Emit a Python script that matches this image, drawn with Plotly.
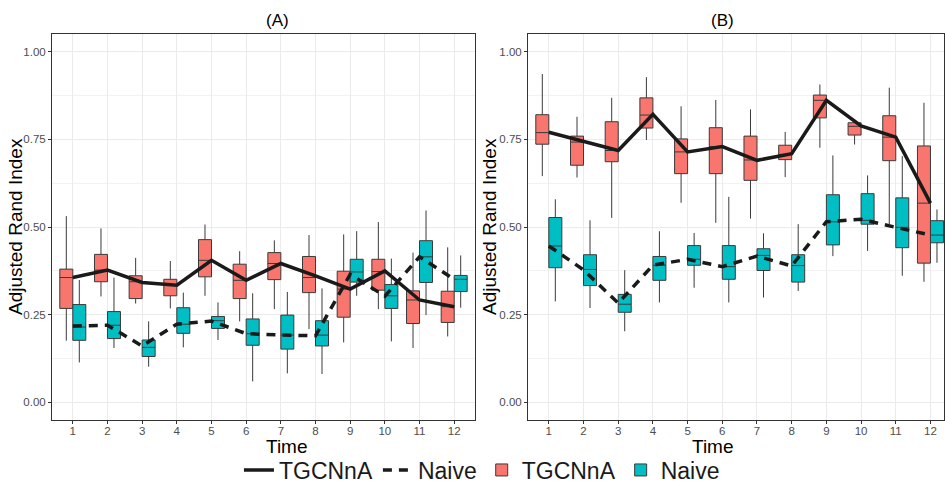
import plotly.graph_objects as go

times = list(range(1, 13))

# Panel A - TGCNnA
a_t_low = [0.176, 0.302, 0.282, 0.268, 0.304, 0.231, 0.266, 0.209, 0.171, 0.266, 0.155, 0.188]
a_t_q1 = [0.268, 0.344, 0.296, 0.304, 0.358, 0.296, 0.350, 0.313, 0.243, 0.320, 0.225, 0.228]
a_t_med = [0.356, 0.377, 0.344, 0.336, 0.405, 0.348, 0.396, 0.356, 0.323, 0.373, 0.292, 0.273]
a_t_q3 = [0.380, 0.422, 0.361, 0.351, 0.464, 0.394, 0.427, 0.416, 0.374, 0.408, 0.318, 0.317]
a_t_high = [0.531, 0.496, 0.412, 0.403, 0.507, 0.431, 0.462, 0.477, 0.479, 0.514, 0.427, 0.442]
a_t_mean = [0.356, 0.377, 0.342, 0.334, 0.405, 0.348, 0.396, 0.361, 0.323, 0.375, 0.292, 0.273]

# Panel A - Naive
a_n_low = [0.114, 0.155, 0.102, 0.157, 0.178, 0.060, 0.083, 0.081, 0.304, 0.174, 0.249, 0.270]
a_n_q1 = [0.177, 0.182, 0.131, 0.197, 0.211, 0.163, 0.152, 0.161, 0.343, 0.268, 0.342, 0.316]
a_n_med = [0.215, 0.220, 0.157, 0.223, 0.233, 0.196, 0.192, 0.192, 0.372, 0.304, 0.415, 0.351]
a_n_q3 = [0.279, 0.259, 0.178, 0.270, 0.245, 0.238, 0.249, 0.233, 0.408, 0.336, 0.461, 0.362]
a_n_high = [0.349, 0.356, 0.231, 0.313, 0.285, 0.311, 0.315, 0.325, 0.488, 0.410, 0.547, 0.419]
a_n_mean = [0.218, 0.220, 0.161, 0.223, 0.232, 0.196, 0.192, 0.190, 0.365, 0.303, 0.415, 0.351]

# Panel B - TGCNnA
b_t_low = [0.645, 0.641, 0.526, 0.748, 0.569, 0.512, 0.524, 0.642, 0.726, 0.735, 0.508, 0.344]
b_t_q1 = [0.736, 0.676, 0.686, 0.782, 0.652, 0.652, 0.633, 0.692, 0.811, 0.762, 0.689, 0.397]
b_t_med = [0.769, 0.742, 0.718, 0.819, 0.714, 0.729, 0.691, 0.707, 0.861, 0.787, 0.756, 0.568]
b_t_q3 = [0.820, 0.759, 0.800, 0.868, 0.751, 0.783, 0.759, 0.733, 0.876, 0.797, 0.817, 0.731]
b_t_high = [0.936, 0.814, 0.868, 0.927, 0.844, 0.862, 0.835, 0.771, 0.906, 0.797, 0.897, 0.854]
b_t_mean = [0.770, 0.745, 0.718, 0.821, 0.714, 0.729, 0.690, 0.709, 0.861, 0.788, 0.756, 0.568]

# Panel B - Naive
b_n_low = [0.288, 0.269, 0.203, 0.285, 0.327, 0.285, 0.299, 0.318, 0.417, 0.432, 0.361, 0.398]
b_n_q1 = [0.384, 0.333, 0.257, 0.348, 0.391, 0.351, 0.376, 0.343, 0.449, 0.508, 0.441, 0.455]
b_n_med = [0.446, 0.379, 0.280, 0.391, 0.408, 0.387, 0.419, 0.390, 0.515, 0.519, 0.499, 0.477]
b_n_q3 = [0.527, 0.421, 0.308, 0.416, 0.447, 0.447, 0.438, 0.421, 0.592, 0.595, 0.583, 0.518]
b_n_high = [0.579, 0.519, 0.377, 0.488, 0.483, 0.586, 0.482, 0.508, 0.704, 0.647, 0.702, 0.550]
b_n_mean = [0.446, 0.378, 0.283, 0.391, 0.408, 0.387, 0.417, 0.389, 0.515, 0.522, 0.499, 0.477]

y_ticks = [0.0, 0.25, 0.5, 0.75, 1.0]
y_tick_labels = ["0.00", "0.25", "0.50", "0.75", "1.00"]

RED = "#F8766D"
TEAL = "#00BFC4"
DODGE = 0.1875
BOXW = 0.375
FONT = "Liberation Sans, Arial, sans-serif"

fig = go.Figure()


def add_panel(xa, ya, t_stats, n_stats, t_mean, n_mean, show):
    for stats, color, name, off in [(t_stats, RED, "TGCNnA", -DODGE), (n_stats, TEAL, "Naive", DODGE)]:
        low, q1, med, q3, high = stats
        fig.add_trace(go.Box(
            x=[t + off for t in times], q1=q1, median=med, q3=q3,
            lowerfence=low, upperfence=high, width=BOXW,
            fillcolor=color, line=dict(color="#3a3a3a", width=1),
            whiskerwidth=0, name=name, legendgroup="box" + name,
            showlegend=show, xaxis=xa, yaxis=ya, legendrank=3 if name == "TGCNnA" else 4,
        ))
    fig.add_trace(go.Scatter(
        x=times, y=t_mean, mode="lines", line=dict(color="#1a1a1a", width=3.5),
        name="TGCNnA", legendgroup="lineT", showlegend=show, xaxis=xa, yaxis=ya, legendrank=1,
    ))
    fig.add_trace(go.Scatter(
        x=times, y=n_mean, mode="lines", line=dict(color="#1a1a1a", width=3.5, dash="9px,7px"),
        name="Naive", legendgroup="lineN", showlegend=show, xaxis=xa, yaxis=ya, legendrank=2,
    ))


add_panel("x", "y", (a_t_low, a_t_q1, a_t_med, a_t_q3, a_t_high),
          (a_n_low, a_n_q1, a_n_med, a_n_q3, a_n_high), a_t_mean, a_n_mean, True)
add_panel("x2", "y2", (b_t_low, b_t_q1, b_t_med, b_t_q3, b_t_high),
          (b_n_low, b_n_q1, b_n_med, b_n_q3, b_n_high), b_t_mean, b_n_mean, False)

ydom = [1 - 420 / 483, 1 - 34 / 483]
xaxis_common = dict(
    tickmode="array", tickvals=times, ticktext=[str(t) for t in times],
    showgrid=True, gridcolor="#EBEBEB", gridwidth=1, zeroline=False,
    showline=True, linecolor="#333333", linewidth=1, mirror=True,
    ticks="outside", ticklen=3, tickcolor="#333333", ticklabelstandoff=-3,
    tickfont=dict(size=11.5, color="#4d4d4d", family=FONT),
)
yaxis_common = dict(
    range=[-0.05, 1.05], tickmode="array", tickvals=y_ticks, ticktext=y_tick_labels,
    showgrid=True, gridcolor="#EBEBEB", gridwidth=1, zeroline=False,
    showline=True, linecolor="#333333", linewidth=1, mirror=True,
    ticks="outside", ticklen=3, tickcolor="#333333",
    tickfont=dict(size=11.5, color="#4d4d4d", family=FONT),
    minor=dict(dtick=0.125, tick0=0.125, showgrid=True, gridcolor="#F2F2F2", gridwidth=0.6, ticks=""),
    domain=ydom,
)

fig.update_layout(
    width=945, height=483,
    margin=dict(l=0, r=0, t=0, b=0, autoexpand=False),
    paper_bgcolor="white", plot_bgcolor="white",
    font=dict(family=FONT),
    xaxis=dict(domain=[52 / 945, 475 / 945], range=[0.4, 12.6], **xaxis_common),
    yaxis=dict(anchor="x", **yaxis_common),
    xaxis2=dict(domain=[528 / 945, 944 / 945], range=[0.4, 12.39], anchor="y2", **xaxis_common),
    yaxis2=dict(anchor="x2", **yaxis_common),
    showlegend=True,
    legend=dict(
        orientation="h", x=0.51, xanchor="center", y=13 / 483, yanchor="middle",
        font=dict(size=23, color="#1a1a1a", family=FONT), itemwidth=30,
        traceorder="normal", bgcolor="rgba(0,0,0,0)",
    ),
    annotations=[
        dict(text="(A)", x=(52 + 475) / 2 / 945, y=1 - 21 / 483, xref="paper", yref="paper",
             showarrow=False, font=dict(size=17, color="black", family=FONT), yanchor="middle"),
        dict(text="(B)", x=(528 + 944) / 2 / 945, y=1 - 21 / 483, xref="paper", yref="paper",
             showarrow=False, font=dict(size=17, color="black", family=FONT), yanchor="middle"),
        dict(text="Time", x=(52 + 475) / 2 / 945, y=1 - 446 / 483, xref="paper", yref="paper",
             showarrow=False, font=dict(size=19, color="black", family=FONT), yanchor="middle"),
        dict(text="Time", x=(528 + 944) / 2 / 945, y=1 - 446 / 483, xref="paper", yref="paper",
             showarrow=False, font=dict(size=19, color="black", family=FONT), yanchor="middle"),
        dict(text="Adjusted Rand Index", x=16 / 945, y=(ydom[0] + ydom[1]) / 2, xref="paper", yref="paper",
             showarrow=False, textangle=-90, font=dict(size=19, color="black", family=FONT),
             xanchor="center", yanchor="middle"),
        dict(text="Adjusted Rand Index", x=490 / 945, y=(ydom[0] + ydom[1]) / 2, xref="paper", yref="paper",
             showarrow=False, textangle=-90, font=dict(size=19, color="black", family=FONT),
             xanchor="center", yanchor="middle"),
    ],
)

fig.write_html("out.html")
